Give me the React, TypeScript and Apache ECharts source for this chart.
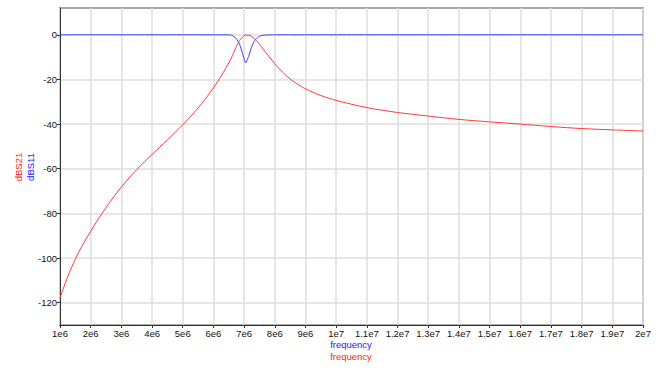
import React, { useEffect, useRef } from 'react';
import * as echarts from 'echarts';

// frequency in MHz (converted to Hz for the axis)
const freqMHz = [1, 1.25, 1.5, 1.75, 2, 2.25, 2.5, 2.75, 3, 3.25, 3.5, 3.75, 4, 4.25, 4.5, 4.75, 5, 5.25, 5.5, 5.75, 6, 6.25, 6.5, 6.6, 6.65, 6.75, 6.85, 6.95, 7.05, 7.15, 7.25, 7.35, 7.45, 7.55, 7.7, 7.9, 8, 8.25, 8.5, 8.75, 9, 9.5, 10, 11, 12, 13, 14, 15, 16, 17, 18, 19, 20];

const dBS21 = [-117.9, -108.4, -100.5, -93.8, -88, -82.5, -77.4, -72.6, -68.2, -64.1, -60.4, -56.9, -53.6, -50.35, -47.1, -43.75, -40.3, -36.7, -32.8, -28.5, -23.8, -18.6, -12.6, -9.9, -8.3, -5.2, -2.6, -1, -0.15, -0.2, -0.8, -1.9, -3.4, -5.1, -7.8, -11.3, -13.0, -16.7, -19.8, -22.2, -24.2, -27.2, -29.4, -32.6, -34.8, -36.4, -37.9, -39.0, -40.0, -41.1, -42.0, -42.6, -43.1];

const dBS11 = [0, 0, 0, 0, 0, 0, 0, 0, 0, 0, 0, 0, 0, 0, 0, 0, 0, 0, 0, 0, 0, 0, 0, -0.2, -0.6, -1.8, -4.2, -8.4, -12.6, -9.5, -5.2, -2.5, -1.1, -0.4, -0.1, 0, 0, 0, 0, 0, 0, 0, 0, 0, 0, 0, 0, 0, 0, 0, 0, 0, 0];

const xTickLabels = ['1e6', '2e6', '3e6', '4e6', '5e6', '6e6', '7e6', '8e6', '9e6', '1e7', '1.1e7', '1.2e7', '1.3e7', '1.4e7', '1.5e7', '1.6e7', '1.7e7', '1.8e7', '1.9e7', '2e7'];
const yTicks = [0, -20, -40, -60, -80, -100, -120];

const FONT = 'Liberation Sans, Arial, sans-serif';

export default function App() {
  const ref = useRef<HTMLDivElement>(null);
  useEffect(() => {
    const chart = echarts.init(ref.current!, null, { renderer: 'svg' });
    const s21Data = freqMHz.map((f, i) => [f * 1e6, dBS21[i]]);
    const s11Data = freqMHz.map((f, i) => [f * 1e6, dBS11[i]]);
    chart.setOption({
      animation: false,
      backgroundColor: '#ffffff',
      grid: {
        left: 60,
        right: 13,
        top: 8,
        bottom: 56,
        show: true,
        borderColor: '#a8a8a8',
        borderWidth: 2,
        backgroundColor: 'transparent',
      },
      xAxis: {
        type: 'value',
        min: 1e6,
        max: 2e7,
        interval: 1e6,
        axisLine: { show: true, onZero: false, lineStyle: { color: '#333', width: 1 } },
        axisTick: { show: true, length: 3, lineStyle: { color: '#333' } },
        axisLabel: {
          fontFamily: FONT,
          fontSize: 9.5,
          color: '#111',
          margin: 3,
          showMinLabel: true,
          showMaxLabel: true,
          formatter: (v: number) => xTickLabels[Math.round(v / 1e6) - 1] ?? '',
        },
        splitLine: { show: true, lineStyle: { color: '#dedede', width: 1.5 } },
      },
      yAxis: {
        type: 'value',
        min: -130,
        max: 12,
        axisLine: { show: true, onZero: false, lineStyle: { color: '#333', width: 1 } },
        axisTick: { show: true, length: 3, customValues: yTicks, lineStyle: { color: '#333' } },
        axisLabel: {
          fontFamily: FONT,
          fontSize: 9.5,
          color: '#111',
          margin: 3,
          customValues: yTicks,
          formatter: (v: number) => String(v),
        },
        splitLine: { show: true, lineStyle: { color: '#dedede', width: 1.5 } },
      },
      series: [
        {
          name: 'dBS21',
          type: 'line',
          data: s21Data,
          showSymbol: false,
          symbol: 'none',
          smooth: 0.3,
          lineStyle: { color: '#ff3a3a', width: 1 },
          z: 3,
        },
        {
          name: 'dBS11',
          type: 'line',
          data: s11Data,
          showSymbol: false,
          symbol: 'none',
          smooth: 0.15,
          lineStyle: { color: '#3a3aff', width: 1 },
          z: 4,
        },
      ],
      graphic: [
        {
          type: 'text',
          x: 18,
          y: 167,
          rotation: Math.PI / 2,
          style: { text: 'dBS21', fill: '#ff2020', font: `9.5px ${FONT}`, align: 'center', verticalAlign: 'middle' },
        },
        {
          type: 'text',
          x: 30,
          y: 167,
          rotation: Math.PI / 2,
          style: { text: 'dBS11', fill: '#2020ff', font: `9.5px ${FONT}`, align: 'center', verticalAlign: 'middle' },
        },
        {
          type: 'text',
          x: 351,
          y: 344,
          style: { text: 'frequency', fill: '#2020ff', font: `9.5px ${FONT}`, align: 'center', verticalAlign: 'middle' },
        },
        {
          type: 'text',
          x: 351,
          y: 356,
          style: { text: 'frequency', fill: '#ff2020', font: `9.5px ${FONT}`, align: 'center', verticalAlign: 'middle' },
        },
      ],
    });
    return () => chart.dispose();
  }, []);
  return <div ref={ref} style={{ position: 'fixed', left: 0, top: 0, width: 656, height: 381 }} />;
}
